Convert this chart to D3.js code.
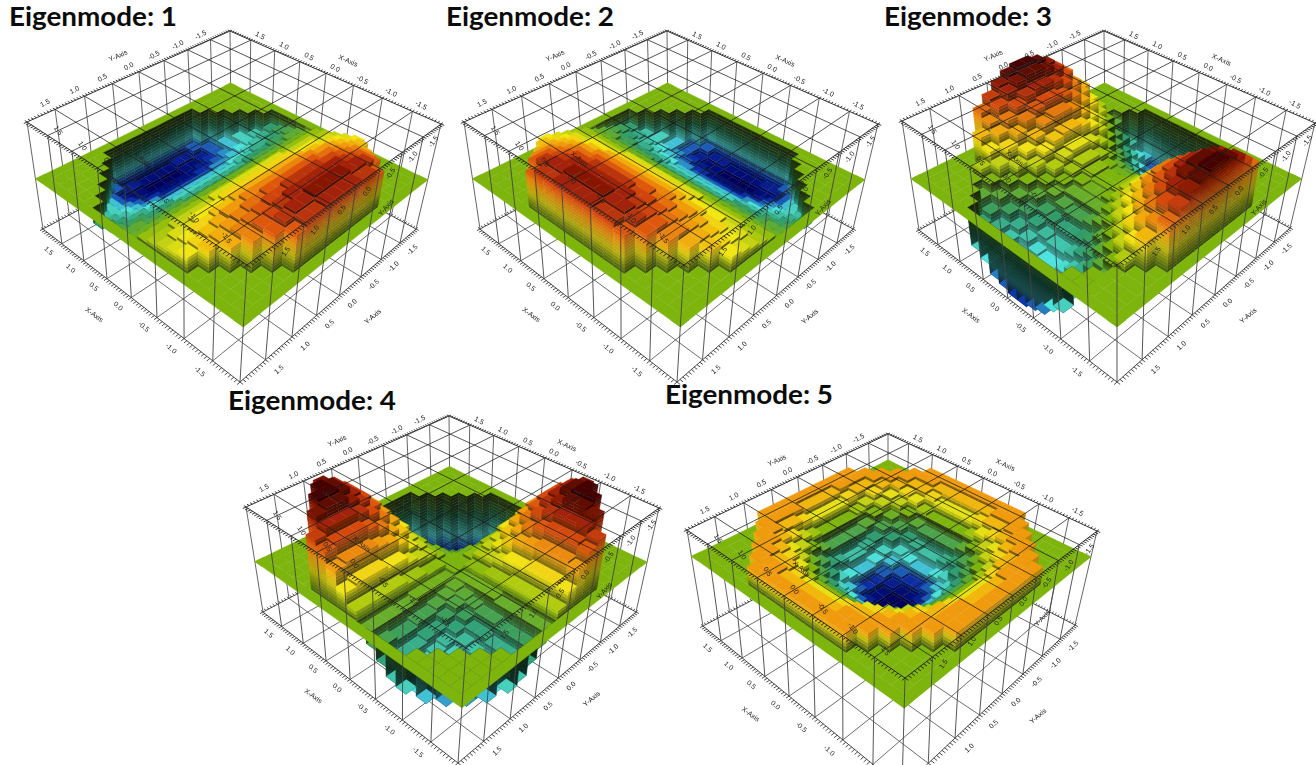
<!DOCTYPE html>
<html>
<head>
<meta charset="utf-8">
<script src="https://cdn.jsdelivr.net/npm/d3@7"></script>
<style>
  html, body { margin: 0; padding: 0; background: #fff; overflow: hidden; }
  text { font-family: "Liberation Sans", sans-serif; }
  .title { font-family: Lato, sans-serif; font-weight: 700; font-size: 26px; fill: #0b0b0b; }
  .tick { font-size: 7px; fill: #222; text-anchor: middle; dominant-baseline: middle; }
</style>
</head>
<body>
<div id="chart"></div>
<script>
// heights, in units of about 3px above/below the green plane.
// each row is one strip of the voxel grid from the back corner to the front,
// outer cells are left out of the shorter rows (they sit at plane level)
const mode1 = [
  [-12,-14,-14,-15,-15,-15,-15,-14,-14,-12],
  [-12,-14,-15,-15,-16,-16,-16,-16,-15,-15,-14,-12],
  [-10,-12,-13,-14,-15,-15,-15,-15,-15,-15,-14,-13,-12,-10],
  [-8,-10,-11,-12,-13,-13,-14,-14,-14,-14,-13,-13,-12,-11,-10,-8],
  [-7,-8,-9,-10,-11,-11,-12,-12,-12,-12,-12,-12,-11,-11,-10,-9,-8,-7],
  [-5,-6,-7,-8,-9,-9,-10,-10,-10,-10,-10,-10,-10,-10,-9,-9,-8,-7,-6,-5],
  [-4,-5,-6,-6,-7,-7,-8,-8,-8,-8,-8,-8,-8,-8,-7,-7,-6,-6,-5,-4],
  [-3,-4,-4,-5,-5,-5,-6,-6,-6,-6,-6,-6,-6,-6,-5,-5,-5,-4,-4,-3],
  [-2,-2,-3,-3,-3,-3,-4,-4,-4,-4,-4,-4,-4,-4,-3,-3,-3,-3,-2,-2],
  [-1,-1,-1,-1,-1,-1,-1,-1,-1,-1,-1,-1,-1,-1,-1,-1,-1,-1,-1,-1],
  [1,1,1,1,1,1,1,1,1,1,1,1,1,1,1,1,1,1,1,1],
  [2,2,3,3,3,3,4,4,4,4,4,4,4,4,3,3,3,3,2,2],
  [3,4,4,5,5,5,6,6,6,6,6,6,6,6,5,5,5,4,4,3],
  [4,5,6,6,7,7,8,8,8,8,8,8,8,8,7,7,6,6,5,4],
  [5,6,7,8,9,9,10,10,10,10,10,10,10,10,9,9,8,7,6,5],
  [7,8,9,10,11,11,12,12,12,12,12,12,11,11,10,9,8,7],
  [8,10,11,12,13,13,14,14,14,14,13,13,12,11,10,8],
  [10,12,13,14,15,15,15,15,15,15,14,13,12,10],
  [12,14,15,15,16,16,16,16,15,15,14,12],
  [12,14,14,15,15,15,15,14,14,12]
];
const mode2 = [
  [-5,-4,-3,-2,-1,1,2,3,4,5],
  [-7,-6,-5,-4,-2,-1,1,2,4,5,6,7],
  [-8,-8,-7,-6,-4,-3,-1,1,3,4,6,7,8,8],
  [-10,-10,-9,-8,-6,-5,-3,-1,1,3,5,6,8,9,10,10],
  [-12,-12,-11,-10,-9,-7,-5,-3,-1,1,3,5,7,9,10,11,12,12],
  [-12,-14,-13,-12,-11,-9,-7,-5,-3,-1,1,3,5,7,9,11,12,13,14,12],
  [-14,-15,-14,-13,-11,-10,-8,-6,-4,-1,1,4,6,8,10,11,13,14,15,14],
  [-14,-15,-15,-13,-12,-10,-8,-6,-4,-1,1,4,6,8,10,12,13,15,15,14],
  [-15,-16,-15,-14,-12,-10,-8,-6,-4,-1,1,4,6,8,10,12,14,15,16,15],
  [-15,-16,-15,-14,-12,-10,-8,-6,-4,-1,1,4,6,8,10,12,14,15,16,15],
  [-15,-16,-15,-14,-12,-10,-8,-6,-4,-1,1,4,6,8,10,12,14,15,16,15],
  [-15,-16,-15,-14,-12,-10,-8,-6,-4,-1,1,4,6,8,10,12,14,15,16,15],
  [-14,-15,-15,-13,-12,-10,-8,-6,-4,-1,1,4,6,8,10,12,13,15,15,14],
  [-14,-15,-14,-13,-11,-10,-8,-6,-4,-1,1,4,6,8,10,11,13,14,15,14],
  [-12,-14,-13,-12,-11,-9,-7,-5,-3,-1,1,3,5,7,9,11,12,13,14,12],
  [-12,-12,-11,-10,-9,-7,-5,-3,-1,1,3,5,7,9,10,11,12,12],
  [-10,-10,-9,-8,-6,-5,-3,-1,1,3,5,6,8,9,10,10],
  [-8,-8,-7,-6,-4,-3,-1,1,3,4,6,7,8,8],
  [-7,-6,-5,-4,-2,-1,1,2,4,5,6,7],
  [-5,-4,-3,-2,-1,1,2,3,4,5]
];
const mode3 = [
  [15,18,21,23,24,24,23,21,18,15],
  [10,13,17,20,22,23,23,22,20,17,13,10],
  [3,7,11,14,17,19,20,20,19,17,14,11,7,3],
  [-3,0,4,8,11,14,16,17,17,16,14,11,8,4,0,-3],
  [-10,-7,-4,0,4,7,10,13,14,14,13,10,7,4,0,-3,-6,-8],
  [-15,-13,-11,-8,-4,0,4,7,9,10,10,9,7,4,0,-3,-6,-9,-10,-12],
  [-18,-17,-14,-11,-7,-4,0,3,5,6,6,5,3,0,-3,-6,-9,-11,-14,-14],
  [-21,-20,-17,-14,-10,-7,-3,0,2,3,3,2,0,-2,-6,-8,-11,-14,-16,-17],
  [-23,-22,-19,-16,-13,-9,-5,-2,0,1,1,0,-2,-4,-7,-10,-13,-15,-18,-18],
  [-24,-23,-20,-17,-14,-10,-6,-3,-1,0,0,-1,-2,-5,-8,-11,-14,-16,-18,-19],
  [-24,-23,-20,-17,-14,-10,-6,-3,-1,0,0,-1,-2,-5,-8,-11,-14,-16,-18,-19],
  [-23,-22,-19,-16,-13,-9,-5,-2,0,1,1,0,-2,-4,-7,-10,-13,-15,-18,-18],
  [-21,-20,-17,-14,-10,-7,-3,0,2,3,3,2,0,-2,-6,-8,-11,-14,-16,-17],
  [-18,-17,-14,-11,-7,-4,0,3,5,6,6,5,3,0,-3,-6,-9,-11,-14,-14],
  [-15,-13,-11,-8,-4,0,4,7,9,10,10,9,7,4,0,-3,-6,-9,-10,-12],
  [-10,-7,-4,0,4,7,10,13,14,14,13,10,7,4,0,-3,-6,-8],
  [-3,0,4,8,11,14,16,17,17,16,14,11,8,4,0,-3],
  [3,7,11,14,17,19,20,20,19,17,14,11,7,3],
  [10,13,17,20,22,23,23,22,20,17,13,10],
  [15,18,21,23,24,24,23,21,18,15]
];
const mode4 = [
  [-18,-16,-12,-7,-3,3,7,12,16,18],
  [-22,-20,-17,-13,-8,-3,3,8,13,17,20,22],
  [-24,-23,-20,-17,-13,-8,-3,3,8,13,17,20,23,24],
  [-24,-24,-23,-20,-17,-13,-8,-3,3,8,13,17,20,23,24,24],
  [-22,-23,-23,-21,-19,-16,-12,-7,-3,3,7,12,16,19,21,23,23,22],
  [-18,-20,-20,-20,-19,-17,-14,-11,-7,-2,2,7,11,14,17,19,20,20,20,18],
  [-16,-17,-17,-17,-16,-14,-11,-9,-5,-2,2,5,9,11,14,16,17,17,17,16],
  [-12,-13,-13,-13,-12,-11,-9,-6,-4,-1,1,4,6,9,11,12,13,13,13,12],
  [-7,-8,-8,-8,-7,-7,-5,-4,-3,-1,1,3,4,5,7,7,8,8,8,7],
  [-3,-3,-3,-3,-3,-2,-2,-1,-1,0,0,1,1,2,2,3,3,3,3,3],
  [3,3,3,3,3,2,2,1,1,0,0,-1,-1,-1,-1,-2,-2,-2,-2,-2],
  [7,8,8,8,7,7,5,4,3,1,-1,-2,-3,-4,-5,-5,-6,-6,-5,-5],
  [12,13,13,13,12,11,9,6,4,1,-1,-3,-4,-6,-8,-8,-9,-9,-9,-8],
  [16,17,17,17,16,14,11,9,5,2,-1,-4,-6,-8,-10,-11,-12,-12,-12,-11],
  [18,20,20,20,19,17,14,11,7,2,-1,-5,-8,-10,-12,-13,-14,-14,-14,-12],
  [22,23,23,21,19,16,12,7,3,-2,-5,-8,-11,-13,-14,-16,-16,-15],
  [24,24,23,20,17,13,8,3,-2,-6,-9,-12,-14,-16,-16,-16],
  [24,23,20,17,13,8,3,-2,-6,-9,-12,-14,-16,-16],
  [22,20,17,13,8,3,-2,-6,-9,-12,-14,-15],
  [18,16,12,7,3,-2,-5,-8,-11,-12]
];
const mode5 = [
  [6,6,6,6,6,6,6,6,6,6],
  [6,6,6,6,5,5,5,5,6,6,6,6],
  [6,6,5,5,4,3,3,3,3,4,5,5,6,6],
  [6,6,5,4,2,1,0,0,0,0,1,2,4,5,6,6],
  [6,6,5,3,2,0,-2,-3,-3,-3,-3,-2,0,2,3,5,6,6],
  [6,6,5,4,2,-1,-3,-5,-6,-7,-7,-6,-5,-3,-1,2,4,5,6,6],
  [6,6,5,3,0,-3,-5,-8,-9,-10,-10,-9,-8,-5,-3,0,3,5,6,6],
  [6,5,4,1,-2,-5,-8,-10,-12,-13,-13,-12,-10,-8,-5,-2,1,4,5,6],
  [6,5,3,0,-3,-6,-9,-12,-14,-15,-15,-14,-12,-9,-6,-3,0,3,5,6],
  [6,5,3,0,-3,-7,-10,-13,-15,-16,-16,-15,-13,-10,-7,-3,0,3,5,6],
  [6,5,3,0,-3,-7,-10,-13,-15,-16,-16,-15,-13,-10,-7,-3,0,3,5,6],
  [6,5,3,0,-3,-6,-9,-12,-14,-15,-15,-14,-12,-9,-6,-3,0,3,5,6],
  [6,5,4,1,-2,-5,-8,-10,-12,-13,-13,-12,-10,-8,-5,-2,1,4,5,6],
  [6,6,5,3,0,-3,-5,-8,-9,-10,-10,-9,-8,-5,-3,0,3,5,6,6],
  [6,6,5,4,2,-1,-3,-5,-6,-7,-7,-6,-5,-3,-1,2,4,5,6,6],
  [6,6,5,3,2,0,-2,-3,-3,-3,-3,-2,0,2,3,5,6,6],
  [6,6,5,4,2,1,0,0,0,0,1,2,4,5,6,6],
  [6,6,5,5,4,3,3,3,3,4,5,5,6,6],
  [6,6,6,6,5,5,5,5,6,6,6,6],
  [6,6,6,6,6,6,6,6,6,6]
];

const tickValues = [-1.5, -1, -0.5, 0, 0.5, 1, 1.5];
const tickLabels = ["-1.5", "-1.0", "-0.5", "0.0", "0.5", "1.0", "1.5"];
const minorTicks = d3.range(-1.95, 1.951, 0.05);
const colorStops = [-1, -0.8, -0.58, -0.3, 0, 0.28, 0.5, 0.7, 0.85, 1];
const colorRange = ["#00005c", "#0b32a8", "#4fe6e0", "#2f9a6a", "#7db511", "#f2e612", "#f09a10", "#d94c0e", "#9c1e06", "#470404"];

// corners in pixels: back, right, front, left of top and bottom face of the box
const panels = [
  { title: "Eigenmode: 1", tx: 9, ty: 26, heights: mode1, lo: -16, hi: 18, plane: 0.47, unit: 0.0283,
    top: [[230,31],[441,124],[247,265],[27,122]], bot: [[231,129],[416,229],[240,382],[43,229]] },
  { title: "Eigenmode: 2", tx: 446, ty: 26, heights: mode2, lo: -16, hi: 18, plane: 0.47, unit: 0.0283,
    top: [[667,31],[878,124],[684,265],[464,122]], bot: [[668,129],[853,229],[677,382],[480,229]] },
  { title: "Eigenmode: 3", tx: 884, ty: 26, heights: mode3, lo: -24, hi: 24, plane: 0.47, unit: 0.0283,
    top: [[1104,31],[1315,123],[1117,265],[902,121]], bot: [[1105,129],[1290,228],[1117,382],[919,230]] },
  { title: "Eigenmode: 4", tx: 228, ty: 410, heights: mode4, lo: -24, hi: 24, plane: 0.48, unit: 0.0288,
    top: [[449,416],[659,508],[466,648],[246,507]], bot: [[450,513],[636,612],[458,763],[263,612]] },
  { title: "Eigenmode: 5", tx: 665, ty: 404, heights: mode5, lo: -16, hi: 12, plane: 0.726, unit: 0.032,
    top: [[888,434],[1097,531],[905,678],[687,530]], bot: [[888,529],[1075,625],[902,788],[703,626]] }
];

const E = 1.95, N = 20;
const edgeU = d3.scaleLinear().domain([E, -E]).range([0, 1]);
const edgeV = d3.scaleLinear().domain([-E, E]).range([0, 1]);
const cellX = d3.scaleLinear().domain([0, N]).range([1.8, -1.8]);
const cellY = d3.scaleLinear().domain([0, N]).range([-1.8, 1.8]);

// projective map of the unit square on a quad
function quadMap(q) {
  const [[x0,y0],[x1,y1],[x2,y2],[x3,y3]] = q;
  const dx1 = x1-x2, dx2 = x3-x2, sx = x0-x1+x2-x3;
  const dy1 = y1-y2, dy2 = y3-y2, sy = y0-y1+y2-y3;
  const den = dx1*dy2 - dx2*dy1;
  const g = (sx*dy2 - dx2*sy)/den, h = (dx1*sy - sx*dy1)/den;
  const a = x1-x0+g*x1, b = x3-x0+h*x3, d = y1-y0+g*y1, e = y3-y0+h*y3;
  return (u, v) => {
    const w = g*u + h*v + 1;
    return [(a*u + b*v + x0)/w, (d*u + e*v + y0)/w];
  };
}

const svg = d3.select("#chart").append("svg")
  .attr("width", 1316).attr("height", 765)
  .style("display", "block");

svg.append("defs").append("filter").attr("id", "soft")
  .attr("x", "-5%").attr("y", "-5%").attr("width", "110%").attr("height", "110%")
  .append("feGaussianBlur").attr("stdDeviation", 0.45);

const pathOf = d3.line();

panels.forEach(drawPanel);

function drawPanel(p) {
  const topMap = quadMap(p.top), botMap = quadMap(p.bot);
  // t=1 top face, t=0 bottom face
  const at = (x, y, t) => {
    const a = botMap(edgeU(x), edgeV(y)), b = topMap(edgeU(x), edgeV(y));
    return [a[0] + (b[0]-a[0])*t, a[1] + (b[1]-a[1])*t];
  };
  const lev = h => p.plane + h*p.unit;
  const color = d3.scaleLinear()
    .domain(colorStops.map(s => s < 0 ? -s*p.lo : s*p.hi))
    .range(colorRange).clamp(true);
  const shade = (h, f) => {
    const c = d3.rgb(color(h));
    return d3.rgb(c.r*f, c.g*f, c.b*f).formatHex();
  };

  const g = svg.append("g").attr("filter", "url(#soft)");

  const segs = (sel, rows, cls, col, w) => sel.selectAll("path." + cls).data(rows).join("path")
    .attr("class", cls)
    .attr("fill", "none").attr("stroke", col).attr("stroke-width", w)
    .attr("d", d => pathOf(d));

  function faceGrid(t) {
    const rows = [];
    tickValues.forEach(v => {
      rows.push([at(v, -E, t), at(v, E, t)]);
      rows.push([at(E, v, t), at(-E, v, t)]);
    });
    return rows;
  }
  function rim(t) {
    const rows = [[at(E,-E,t), at(-E,-E,t), at(-E,E,t), at(E,E,t), at(E,-E,t)]];
    minorTicks.forEach(v => {
      rows.push([at(v,E,t), at(v,E+0.05,t)]);
      rows.push([at(v,-E,t), at(v,-E-0.05,t)]);
      rows.push([at(E,v,t), at(E+0.05,v,t)]);
      rows.push([at(-E,v,t), at(-E-0.05,v,t)]);
    });
    return rows;
  }
  const wall = (x, y) => [at(x, y, 0), at(x, y, 1)];

  // back layer: bottom grid and the two far walls
  const back = g.append("g");
  segs(back, faceGrid(0), "bgrid", "#4a4a4a", 0.8);
  segs(back, rim(0), "brim", "#222", 0.8);
  const farWalls = [wall(E,E), wall(E,-E), wall(-E,-E)];
  tickValues.forEach(v => { farWalls.push(wall(E, v)); farWalls.push(wall(v, -E)); });
  segs(back, farWalls, "fwall", "#555", 0.9);

  // cells from the back corner to the front, nearer ones paint over
  const grid = d3.range(N).map(() => d3.range(N).map(() => 0));
  p.heights.forEach((row, i) => {
    const pad = (N - row.length)/2;
    row.forEach((h, k) => { grid[i][pad + k] = h; });
  });
  const H = (i, j) => (i < N && j < N) ? grid[i][j] : 0;

  const quads = [];
  const planeCol = color(0);
  quads.push({ pts: [at(E,-E,lev(0)), at(E,E,lev(0)), at(1.8,E,lev(0)), at(1.8,-E,lev(0))], fill: planeCol });
  quads.push({ pts: [at(E,-E,lev(0)), at(-E,-E,lev(0)), at(-E,-1.8,lev(0)), at(E,-1.8,lev(0))], fill: planeCol });

  function side(a, b, from, to, f) {
    // wall between two heights, cut in bands so the colour runs with height
    const lo = Math.min(from, to), hi = Math.max(from, to);
    const outer = from < to;
    for (let z = lo; z < hi; z++) {
      let fade;
      if (outer) fade = f*0.42;
      else if (z < 0) fade = f*(0.3 + 0.6*(-z)/Math.max(1, -lo));
      else fade = f*(0.7 + 0.7*(z-lo)/Math.max(1, hi-lo));
      quads.push({
        pts: [at(a[0],a[1],lev(z)), at(b[0],b[1],lev(z)), at(b[0],b[1],lev(z+1)), at(a[0],a[1],lev(z+1))],
        fill: shade(z + 0.5, Math.min(1, fade))
      });
    }
  }

  // pit walls on the far edge of the grid
  d3.range(N).forEach(k => {
    if (grid[0][k] < 0) side([1.8,cellY(k)], [1.8,cellY(k+1)], 0, grid[0][k], 0.6);
    if (grid[k][0] < 0) side([cellX(k),-1.8], [cellX(k+1),-1.8], 0, grid[k][0], 0.78);
  });

  for (let s = 0; s <= 2*N - 2; s++) {
    for (let i = Math.max(0, s-N+1); i <= Math.min(s, N-1); i++) {
      const j = s - i;
      const h = grid[i][j];
      const x0 = cellX(i), x1 = cellX(i+1), y0 = cellY(j), y1 = cellY(j+1);
      const nr = H(i+1, j), nl = H(i, j+1);
      if (h > nr || h < 0) side([x1,y0], [x1,y1], h, nr, 0.6);
      if (h > nl || h < 0) side([x0,y1], [x1,y1], h, nl, 0.78);
      quads.push({
        pts: [at(x0,y0,lev(h)), at(x1,y0,lev(h)), at(x1,y1,lev(h)), at(x0,y1,lev(h))],
        fill: color(h)
      });
    }
  }

  quads.push({ pts: [at(-1.8,-E,lev(0)), at(-E,-E,lev(0)), at(-E,E,lev(0)), at(-1.8,E,lev(0))], fill: planeCol });
  quads.push({ pts: [at(E,1.8,lev(0)), at(-E,1.8,lev(0)), at(-E,E,lev(0)), at(E,E,lev(0))], fill: planeCol });

  g.append("g").selectAll("path").data(quads).join("path")
    .attr("d", d => pathOf(d.pts) + "Z")
    .attr("fill", d => d.fill)
    .attr("stroke", d => d.fill)
    .attr("stroke-width", 0.35);

  // front layer: near walls, top grid and rim
  const front = g.append("g");
  const nearWalls = [wall(-E,E)];
  tickValues.forEach(v => { nearWalls.push(wall(v, E)); nearWalls.push(wall(-E, v)); });
  segs(front, nearWalls, "nwall", "#444", 0.9);
  segs(front, faceGrid(1), "tgrid", "#1c1c1c", 0.75);
  segs(front, rim(1), "trim", "#222", 0.9);

  // labels
  const labels = [];
  const add = (x, y, t, r, text) => labels.push({ pos: at(x, y, t), r, text });
  tickValues.forEach((v, k) => {
    const s = tickLabels[k];
    add(E+0.22, v, 1, -28, s);
    add(v, -E-0.22, 1, 28, s);
    add(v, E-0.16, 1, 55, s);
    add(-E-0.16, v, 1, -55, s);
    add(v, E+0.22, 0, 42, s);
    add(-E-0.22, v, 0, -42, s);
  });
  add(E+0.58, -0.1, 1, -24, "Y-Axis");
  add(0, -E-0.55, 1, 24, "X-Axis");
  add(0.25, E-0.5, 1, 40, "X-Axis");
  add(-E-0.5, 0.1, 1, -48, "Y-Axis");
  add(0.1, E+0.52, 0, 36, "X-Axis");
  add(-E-0.55, 0, 0, -40, "Y-Axis");

  g.append("g").selectAll("text").data(labels.filter(d => d.pos[1] < 757)).join("text")
    .attr("class", "tick")
    .attr("transform", d => `translate(${d.pos[0].toFixed(1)},${d.pos[1].toFixed(1)}) rotate(${d.r})`)
    .text(d => d.text);

  svg.append("text").attr("class", "title")
    .attr("x", p.tx).attr("y", p.ty)
    .attr("textLength", 168).attr("lengthAdjust", "spacingAndGlyphs")
    .text(p.title);
}
</script>
</body>
</html>
